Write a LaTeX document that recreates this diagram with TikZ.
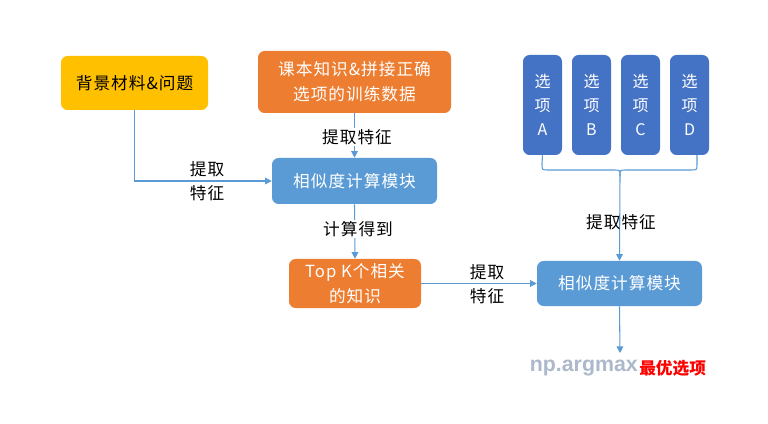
\documentclass[tikz,border=0pt]{standalone}
\usepackage{fontspec}
\setmainfont{Noto Sans CJK SC}
\newfontfamily\latinbold{Liberation Sans}
\newfontfamily\spaced[LetterSpace=6]{Noto Sans CJK SC}
\usetikzlibrary{arrows.meta}
\definecolor{cyel}{HTML}{FFC000}
\definecolor{corg}{HTML}{ED7D31}
\definecolor{cblu}{HTML}{5B9BD5}
\definecolor{copt}{HTML}{4472C4}
\definecolor{cgray}{HTML}{ADB9CA}
\begin{document}
\begin{tikzpicture}[x=0.75pt,y=-0.75pt,
  box/.style={rounded corners=5pt, draw=none, text=white, align=center, font=\spaced\fontsize{12.5}{19}\selectfont, inner sep=0pt},
  optbox/.style={box, fill=copt, minimum width=29.25pt, minimum height=75pt, font=\fontsize{12}{18}\selectfont},
  arr/.style={draw=cblu, line width=0.8pt, -{Triangle[length=5pt,width=5pt]}},
  conn/.style={draw=cblu, line width=0.8pt},
  lbl/.style={font=\spaced\fontsize{12.5}{18}\selectfont, text=black, align=center, inner sep=1pt}]
\useasboundingbox (0,0) rectangle (768,424);
\fill[white] (0,0) rectangle (768,424);
% nodes
\node[box, fill=cyel, text=black, minimum width=110.25pt, minimum height=40.5pt] (bg) at (134.5,83) {背景材料\&问题};
\node[box, fill=corg, minimum width=144.75pt, minimum height=46.5pt] (kb) at (354.5,82) {课本知识\&拼接正确\\选项的训练数据};
\node[box, fill=cblu, minimum width=123.75pt, minimum height=34.5pt] (s1) at (354.5,181) {相似度计算模块};
\node[box, fill=corg, minimum width=99pt, minimum height=36.75pt] (tk) at (355,283.5) {Top K个相关\\的知识};
\node[box, fill=cblu, minimum width=123.75pt, minimum height=33.75pt] (s2) at (619.5,283.5) {相似度计算模块};
\node[optbox] (oa) at (542.5,105) {选\\项\\A};
\node[optbox] (ob) at (591.5,105) {选\\项\\B};
\node[optbox] (oc) at (640.5,105) {选\\项\\C};
\node[optbox] (od) at (689.5,105) {选\\项\\D};
% connectors
\draw[arr] (bg.south) |- (s1.west);
\node[lbl] (l1) at (207,181) {提取\\特征};
\draw[arr] (kb.south) -- (s1.north);
\node[lbl, fill=white] (l2) at (357,137) {提取特征};
\draw[arr] (s1.south) -- (tk.north);
\node[lbl, fill=white] (l3) at (358,229) {计算得到};
\draw[arr] (tk.east) -- (s2.west);
\node[lbl] (l4) at (487,284) {提取\\特征};
% brace
\coordinate (br) at (697,155);
\coordinate (bm) at (620,176);
\draw[conn] (oa.south) -- (542,164) .. controls (542,170) .. (548,170) -- (614,170) .. controls (620,170) .. (bm);
\draw[conn] (br) -- (697,164) .. controls (697,170) .. (691,170) -- (626,170) .. controls (620,170) .. (bm);
\draw[arr] (bm) -- (s2.north);
\node[lbl] (l5) at (621,222) {提取特征};
% output
\coordinate (out) at (620,353);
\draw[arr] (s2.south) -- (out);
\node[anchor=east, inner sep=0pt, text=cgray, font=\latinbold\bfseries\fontsize{16}{18}\selectfont] (np) at (638,368) {np.argmax};
\node[anchor=west, inner sep=0pt, text=red, font=\bfseries\fontsize{12.5}{16}\selectfont] (best) at (639,368) {最优选项};
\end{tikzpicture}
\end{document}
